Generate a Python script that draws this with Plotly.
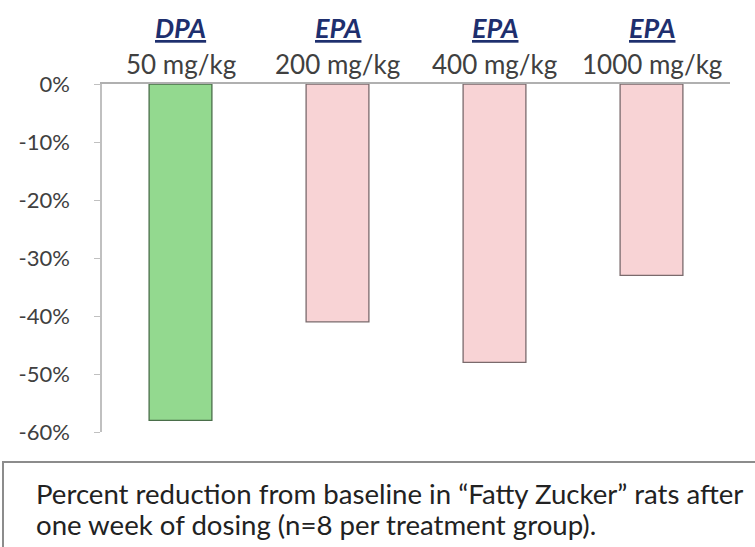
import plotly.graph_objects as go

compounds = ["DPA", "EPA", "EPA", "EPA"]
doses = ["50 mg/kg", "200 mg/kg", "400 mg/kg", "1000 mg/kg"]
values = [-58, -41, -48, -33]
bar_colors = ["#93d98f", "#f8d3d5", "#f8d3d5", "#f8d3d5"]
line_colors = ["#4a6e4a", "#7a6a6c", "#7a6a6c", "#7a6a6c"]
y_ticks = [0, -10, -20, -30, -40, -50, -60]
caption_lines = [
    "Percent reduction from baseline in \u201cFatty Zucker\u201d rats after",
    "one week of dosing (n=8 per treatment group).",
]

W, H = 755, 547
L, R, T, B = 102, 25, 84, 115
pw, ph = W - L - R, H - T - B

def px(x):
    return (x - L) / pw

def py(y):
    return (H - B - y) / ph

cats = list(range(len(values)))
fig = go.Figure(go.Bar(
    x=cats, y=values, width=0.4,
    marker=dict(color=bar_colors, line=dict(color=line_colors, width=1.3)),
))

annotations = []
for i, (c, d) in enumerate(zip(compounds, doses)):
    annotations.append(dict(
        xref="x", yref="paper", x=i, y=py(27), xanchor="center", yanchor="middle",
        showarrow=False, text=f"<b><i><u>{c}</u></i></b>",
        font=dict(size=27, color="#1e2f6e"),
    ))
    annotations.append(dict(
        xref="x", yref="paper", x=i, y=py(64), xanchor="center", yanchor="middle",
        showarrow=False, text=d, font=dict(size=26, color="#404040"),
    ))
for j, (line, yy) in enumerate(zip(caption_lines, [493, 524])):
    annotations.append(dict(
        xref="paper", yref="paper", x=px(34), y=py(yy),
        xanchor="left", yanchor="middle", align="left", showarrow=False,
        text=line, font=dict(size=27.6, color="#222222"),
    ))

fig.update_layout(
    width=W, height=H,
    margin=dict(l=L, r=R, t=T, b=B),
    paper_bgcolor="white", plot_bgcolor="white",
    font=dict(family="Lato, Open Sans, sans-serif", color="#404040", size=20),
    showlegend=False,
    xaxis=dict(
        tickvals=cats, showticklabels=False, range=[-0.5, 3.5], side="top",
        showline=True, linecolor="#b0b0b0", linewidth=1.5, ticks="",
        showgrid=False, zeroline=False,
    ),
    yaxis=dict(
        range=[-60, 0], tickvals=y_ticks, ticktext=[f"{v}%" for v in y_ticks],
        showline=True, linecolor="#c0c0c0", linewidth=1.5, ticks="outside",
        ticklen=6, tickcolor="#c0c0c0", showgrid=False, zeroline=False,
        tickfont=dict(size=22, color="#404040"), ticklabelstandoff=20,
    ),
    shapes=[dict(
        type="rect", xref="paper", yref="paper",
        x0=px(3), x1=px(775), y0=py(462), y1=py(580),
        line=dict(color="#8c8c8c", width=2), fillcolor="rgba(0,0,0,0)", layer="above",
    )],
    annotations=annotations,
)

fig.write_html(
    "out.html",
    config={"displayModeBar": False},
    post_script="document.body.style.margin='0';",
)
